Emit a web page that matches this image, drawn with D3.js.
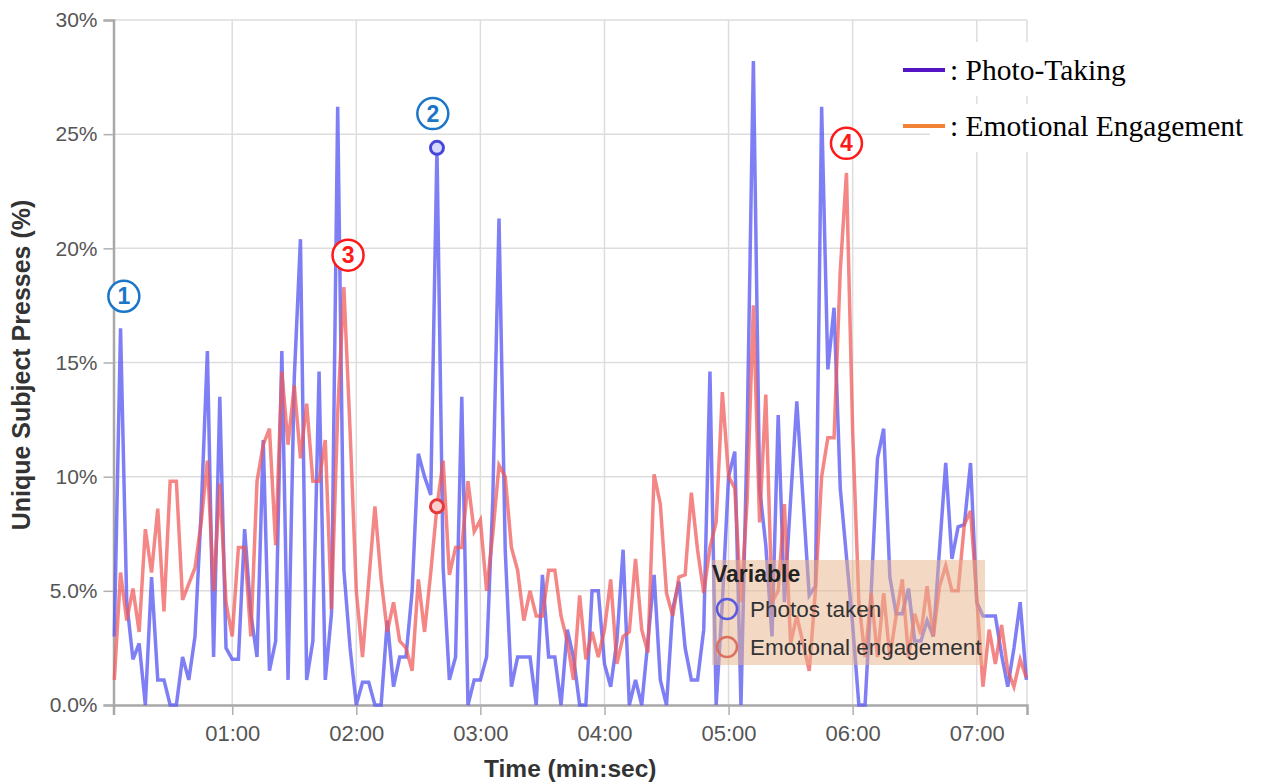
<!DOCTYPE html>
<html>
<head>
<meta charset="utf-8">
<script src="https://cdn.jsdelivr.net/npm/d3@7"></script>
<style>
  body { margin: 0; background: #fff; }
  svg { display: block; }
</style>
</head>
<body>
<svg id="chart" width="1261" height="784"></svg>
<script>
// Sample times in seconds (one sample every 3 s)
const seconds = [
  3,6,9,12,15,18,21,24,27,30,33,36,39,42,45,48,51,54,57,60,
  63,66,69,72,75,78,81,84,87,90,93,96,99,102,105,108,111,114,117,120,
  123,126,129,132,135,138,141,144,147,150,153,156,159,162,165,168,171,174,177,180,
  183,186,189,192,195,198,201,204,207,210,213,216,219,222,225,228,231,234,237,240,
  243,246,249,252,255,258,261,264,267,270,273,276,279,282,285,288,291,294,297,300,
  303,306,309,312,315,318,321,324,327,330,333,336,339,342,345,348,351,354,357,360,
  363,366,369,372,375,378,381,384,387,390,393,396,399,402,405,408,411,414,417,420,
  423,426,429,432,435,438,441,444
];

// Share of unique subjects pressing (%) for each sample
const photosTaken = [
  3.0,16.5,4.5,2.0,2.7,0,5.6,1.1,1.1,0,0,2.1,1.1,3.0,8.5,15.5,2.1,13.5,2.5,2.0,
  2.0,7.7,4.0,2.1,11.6,1.5,2.8,15.5,1.1,14.3,20.4,1.1,2.8,14.6,1.1,4.0,26.2,5.9,2.5,0,
  1.0,1.0,0,0,3.7,0.8,2.1,2.1,5.0,11.0,10.0,9.2,24.4,6.0,1.1,2.1,13.5,0,1.1,1.1,
  2.1,9.0,21.3,6.8,0.8,2.1,2.1,2.1,0,5.7,2.1,2.1,0,3.3,2.1,0,0,5.0,5.0,1.8,
  0.8,2.8,6.8,0,1.1,0,2.8,5.7,1.1,0,4.2,5.4,2.5,1.1,1.1,3.3,14.6,0,4.5,10.0,
  11.1,0,12.0,28.2,9.5,7.0,3.0,12.7,4.5,9.0,13.3,9.0,4.8,5.2,26.2,14.7,17.4,9.5,6.5,3.5,
  0,0,5.0,10.8,12.1,5.6,4.0,4.0,5.1,2.8,2.8,3.7,3.0,6.8,10.6,6.4,7.8,7.9,10.6,4.5,
  3.9,3.9,3.9,2.2,0.8,2.5,4.5,1.1
];

const emotionalEngagement = [
  1.1,5.8,3.7,5.1,3.2,7.7,5.8,8.6,4.1,9.8,9.8,4.6,5.3,6.0,8.0,10.7,5.0,9.7,4.5,3.0,
  6.9,6.9,3.0,9.8,11.4,12.1,7.0,14.6,11.4,14.0,10.8,13.2,9.8,9.8,11.6,4.2,12.8,18.3,12.0,5.0,
  2.1,5.4,8.7,5.5,3.2,4.5,2.8,2.5,1.5,5.5,3.2,5.8,8.7,10.7,5.7,6.9,6.9,9.8,7.6,8.1,
  5.0,7.5,10.5,10.0,6.9,5.9,3.7,5.0,3.9,3.9,5.9,5.9,3.9,2.8,1.1,4.8,2.0,3.2,2.1,3.3,
  5.5,1.8,3.0,3.2,6.4,3.3,2.3,10.1,8.8,4.9,3.9,5.6,5.7,9.3,6.8,4.9,6.9,8.0,13.7,10.0,
  9.5,4.5,9.0,17.5,8.0,13.6,4.5,5.0,8.8,2.7,3.9,2.7,1.5,5.0,10.0,11.7,11.7,19.0,23.3,12.0,
  4.5,2.1,4.9,2.1,4.9,2.1,3.9,5.5,2.1,4.0,3.1,5.2,3.0,5.2,6.1,5.0,5.0,7.9,8.5,4.7,
  0.8,3.3,1.8,3.5,1.5,0.8,2.0,1.2
];

const yTicks = [0, 5, 10, 15, 20, 25, 30];
const yTickLabels = ["0.0%", "5.0%", "10%", "15%", "20%", "25%", "30%"];
const xTicks = [60, 120, 180, 240, 300, 360, 420];
const xTickLabels = ["01:00", "02:00", "03:00", "04:00", "05:00", "06:00", "07:00"];

const highlightTime = 159;

// Numbered call-outs: position in (seconds, percent)
const calloutLabels = ["1", "2", "3", "4"];
const calloutTimes = [7.6, 157, 116, 357];
const calloutValues = [17.9, 25.9, 19.7, 24.6];
const calloutColors = ["#1b76c8", "#1b76c8", "#ff1a1a", "#ff1a1a"];

const variableNames = ["Photos taken", "Emotional engagement"];
const keyNames = [": Photo-Taking", ": Emotional Engagement"];

const svg = d3.select("#chart");
const plot = { left: 113.5, right: 1027, top: 20, bottom: 705 };
const sans = "'Liberation Sans', Arial, sans-serif";

const x = d3.scaleLinear().domain([2.6, 444.3]).range([plot.left, plot.right]);
const y = d3.scaleLinear().domain([0, 30]).range([plot.bottom, plot.top]);

const gridColor = "#dddddd";

// horizontal grid
svg.append("g").selectAll("line").data(yTicks.filter(d => d > 0)).join("line")
  .attr("x1", plot.left).attr("x2", plot.right)
  .attr("y1", d => y(d)).attr("y2", d => y(d))
  .attr("stroke", gridColor).attr("stroke-width", 1.5);

// vertical grid
svg.append("g").selectAll("line").data(xTicks).join("line")
  .attr("x1", d => x(d)).attr("x2", d => x(d))
  .attr("y1", plot.top).attr("y2", plot.bottom)
  .attr("stroke", gridColor).attr("stroke-width", 1.5);

svg.append("line")
  .attr("x1", plot.right).attr("x2", plot.right)
  .attr("y1", plot.top).attr("y2", plot.bottom)
  .attr("stroke", gridColor).attr("stroke-width", 1.5);

// y axis
const yAxis = svg.append("g")
  .attr("transform", `translate(${plot.left},0)`)
  .call(d3.axisLeft(y).tickValues(yTicks).tickFormat((d, i) => yTickLabels[i]).tickSize(10).tickPadding(6));
yAxis.select(".domain").attr("stroke", "#a8a8a8").attr("stroke-width", 2.5);
yAxis.selectAll(".tick line").attr("stroke", "#b0b0b0").attr("stroke-width", 1.5);
yAxis.selectAll(".tick text")
  .attr("font-family", sans).attr("font-size", 21).attr("fill", "#555");

// x axis
const xAxis = svg.append("g")
  .attr("transform", `translate(0,${plot.bottom})`)
  .call(d3.axisBottom(x).tickValues(xTicks).tickFormat((d, i) => xTickLabels[i]).tickSize(10).tickPadding(10));
xAxis.select(".domain").attr("stroke", "#a8a8a8").attr("stroke-width", 2.5);
xAxis.selectAll(".tick line").attr("stroke", "#b0b0b0").attr("stroke-width", 1.5);
xAxis.selectAll(".tick text")
  .attr("font-family", sans).attr("font-size", 22).attr("fill", "#555");

// axis titles
svg.append("text")
  .attr("x", (plot.left + plot.right) / 2).attr("y", 777)
  .attr("text-anchor", "middle")
  .attr("font-family", sans).attr("font-size", 24.5).attr("font-weight", "bold").attr("fill", "#333")
  .text("Time (min:sec)");

svg.append("text")
  .attr("transform", `translate(30,365) rotate(-90)`)
  .attr("text-anchor", "middle")
  .attr("font-family", sans).attr("font-size", 25).attr("font-weight", "bold").attr("fill", "#333")
  .text("Unique Subject Presses (%)");

// series lines
const lineOf = values => d3.line()
  .x((d, i) => x(seconds[i]))
  .y(d => y(d))(values);

svg.append("path")
  .attr("d", lineOf(photosTaken))
  .attr("fill", "none").attr("stroke", "#5f5ff2").attr("stroke-opacity", 0.8)
  .attr("stroke-width", 3.5);

svg.append("path")
  .attr("d", lineOf(emotionalEngagement))
  .attr("fill", "none").attr("stroke", "#f05858").attr("stroke-opacity", 0.72)
  .attr("stroke-width", 3.5);

// highlighted sample
const hi = seconds.indexOf(highlightTime);
svg.append("circle")
  .attr("cx", x(highlightTime)).attr("cy", y(photosTaken[hi])).attr("r", 6.5)
  .attr("fill", "#d8d8ff").attr("stroke", "#4646d8").attr("stroke-width", 3);
svg.append("circle")
  .attr("cx", x(highlightTime)).attr("cy", y(emotionalEngagement[hi])).attr("r", 6.5)
  .attr("fill", "#ffd0d0").attr("stroke", "#e43a3a").attr("stroke-width", 3);

// "Variable" legend box
const lg = svg.append("g");
lg.append("rect")
  .attr("x", 712).attr("y", 560).attr("width", 273).attr("height", 105)
  .attr("fill", "rgb(232,178,138)").attr("fill-opacity", 0.5);
lg.append("text")
  .attr("x", 712).attr("y", 582)
  .attr("font-family", sans).attr("font-size", 23).attr("font-weight", "bold").attr("fill", "#222")
  .text("Variable");
const legendStroke = ["#5a5ae0", "#dc7060"];
variableNames.forEach((name, i) => {
  const cy = 609 + i * 38;
  lg.append("circle").attr("cx", 727).attr("cy", cy).attr("r", 10)
    .attr("fill", "none").attr("stroke", legendStroke[i]).attr("stroke-width", 2.5);
  lg.append("text")
    .attr("x", 750).attr("y", cy + 8)
    .attr("font-family", sans).attr("font-size", 22.5).attr("fill", "#333")
    .text(name);
});

// numbered call-outs
calloutLabels.forEach((lab, i) => {
  const cx = x(calloutTimes[i]), cy = y(calloutValues[i]);
  svg.append("circle").attr("cx", cx).attr("cy", cy).attr("r", 15.5)
    .attr("fill", "#fff").attr("stroke", calloutColors[i]).attr("stroke-width", 2.5);
  svg.append("text").attr("x", cx).attr("y", cy + 8)
    .attr("text-anchor", "middle")
    .attr("font-family", sans).attr("font-size", 23).attr("font-weight", "bold").attr("fill", calloutColors[i])
    .text(lab);
});

// key in the top right corner
const key = svg.append("g");
key.append("rect").attr("x", 940).attr("y", 42).attr("width", 200).attr("height", 54).attr("fill", "#fff");
key.append("rect").attr("x", 930).attr("y", 104).attr("width", 320).attr("height", 48).attr("fill", "#fff");
const keyColors = ["#5514c4", "#f08236"];
keyNames.forEach((name, i) => {
  const cy = 70 + i * 56;
  key.append("line").attr("x1", 903).attr("x2", 945).attr("y1", cy).attr("y2", cy)
    .attr("stroke", keyColors[i]).attr("stroke-width", 4);
  key.append("text").attr("x", 950).attr("y", cy + 10)
    .attr("font-family", "'Liberation Serif', 'Times New Roman', serif")
    .attr("font-size", 29.5).attr("fill", "#000")
    .text(name);
});
</script>
</body>
</html>
